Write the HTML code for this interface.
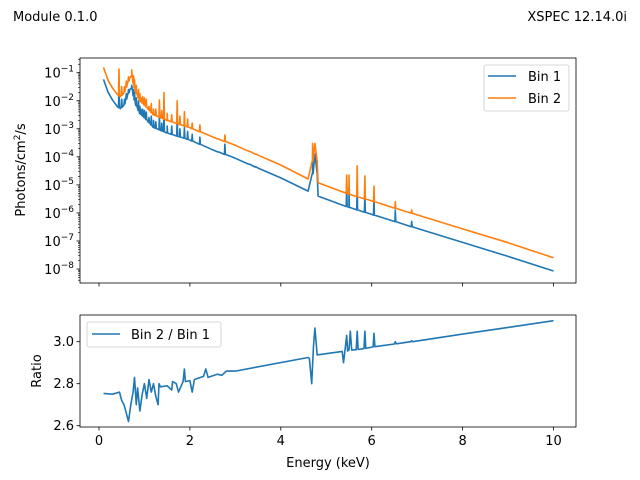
<!DOCTYPE html>
<html><head><meta charset="utf-8"><style>
body{margin:0;background:#fff}
svg{display:block;font-family:"DejaVu Sans","Liberation Sans",sans-serif}
</style></head><body>
<svg id="fig" width="640" height="480" viewBox="0 0 640 480">
<text x="13" y="21" font-size="13">Module 0.1.0</text>
<text x="627" y="21" font-size="13" text-anchor="end">XSPEC 12.14.0i</text>
<g id="topPanel"></g>
<g id="botPanel"></g>
</svg>
<script>
// Continuum anchors (energy keV, log10 photons)
const contE = [0.1,0.2,0.3,0.4,0.47,0.55,0.62,0.68,0.72,0.8,0.9,1.0,1.2,1.5,2.0,2.5,3.0,3.5,4.0,4.6,4.7,4.75,4.8,4.82,5.5,6.0,7.0,8.0,9.0,10.0];
const bin1Log = [-1.24,-1.7,-1.98,-2.2,-2.28,-2.15,-1.85,-1.6,-1.55,-2.1,-2.45,-2.6,-2.95,-3.15,-3.4,-3.75,-4.05,-4.4,-4.75,-5.22,-4.6,-3.9,-4.6,-5.4,-5.8,-6.05,-6.55,-7.05,-7.55,-8.07];
const bin2Log = [-0.81,-1.27,-1.55,-1.77,-1.85,-1.72,-1.42,-1.17,-1.12,-1.66,-2.0,-2.15,-2.5,-2.7,-2.96,-3.29,-3.59,-3.94,-4.29,-4.79,-4.15,-3.52,-4.15,-4.92,-5.33,-5.57,-6.07,-6.57,-7.06,-7.6];
// Emission lines (energy, peak log10)
const lineE = [0.44,0.5,0.56,0.6,0.65,0.72,0.76,0.78,0.82,0.87,0.9,0.92,0.96,1.0,1.04,1.1,1.15,1.2,1.25,1.33,1.38,1.43,1.5,1.6,1.72,1.78,1.88,1.95,2.05,2.22,2.62,2.77,3.3,3.45,4.7,5.45,5.5,5.68,5.85,6.05,6.52,6.88];
const line1Log = [-1.3,-1.95,-1.95,-1.75,-1.6,-1.45,-1.6,-1.7,-1.9,-2.0,-2.2,-2.3,-2.3,-2.35,-2.4,-2.6,-2.55,-2.7,-2.75,-2.55,-2.8,-2.35,-2.9,-2.9,-2.6,-3.0,-2.95,-3.1,-3.2,-3.3,-3.9,-3.55,-4.3,-4.35,-3.9,-5.1,-5.1,-5.1,-5.35,-5.45,-5.9,-6.3];
const line2Log = [-0.87,-1.5,-1.5,-1.3,-1.15,-0.9,-1.1,-1.25,-1.45,-1.6,-1.75,-1.9,-1.85,-1.9,-1.95,-2.2,-2.1,-2.3,-2.3,-1.97,-2.35,-1.71,-2.45,-2.5,-2.0,-2.55,-2.39,-2.65,-2.8,-2.86,-3.45,-3.22,-3.9,-4.0,-3.52,-4.65,-4.65,-4.32,-4.68,-5.04,-5.6,-5.9];
// Ratio (energy, value)
const ratioE = [0.1,0.3,0.45,0.5,0.55,0.6,0.65,0.7,0.75,0.78,0.82,0.85,0.9,0.95,1.0,1.05,1.1,1.15,1.2,1.25,1.3,1.32,1.35,1.5,1.6,1.62,1.7,1.75,1.85,1.88,1.9,2.0,2.05,2.1,2.3,2.35,2.4,2.6,2.7,2.8,3.0,4.6,4.63,4.68,4.72,4.75,4.8,5.35,5.38,5.41,5.45,5.47,5.5,5.53,5.56,5.66,5.68,5.7,5.83,5.85,5.87,6.03,6.05,6.07,6.5,6.52,6.54,6.86,6.88,6.9,8,9,10];
const ratioVal = [2.754,2.75,2.76,2.72,2.70,2.66,2.62,2.70,2.76,2.83,2.70,2.78,2.67,2.75,2.80,2.73,2.82,2.76,2.80,2.74,2.70,2.80,2.785,2.79,2.77,2.81,2.80,2.76,2.81,2.87,2.81,2.815,2.76,2.82,2.835,2.87,2.83,2.845,2.84,2.86,2.86,2.925,2.92,2.80,2.98,3.065,2.937,2.954,2.90,2.955,3.03,2.956,2.96,3.05,2.96,2.962,3.05,2.963,2.967,3.05,2.968,2.975,3.04,2.976,2.989,3.0,2.99,3.0,3.005,3.0,3.036,3.068,3.1];
const xTicks = [0,2,4,6,8,10];
const yLogTicks = [-1,-2,-3,-4,-5,-6,-7,-8];
const ratioTicks = [2.6,2.8,3.0];

const NS = "http://www.w3.org/2000/svg";
const L = 80, R = 576;
const T1 = 58, B1 = 283, T2 = 315, B2 = 427;
function xs(e){ return 99 + e*45.45; }
function ys1(lg){ return 72.7 - (lg+1)*28.05; }
function ys2(v){ return 341.7 - (v-3.0)*210; }
function mk(tag, attrs, parent){
  const el = document.createElementNS(NS, tag);
  for (const k in attrs) el.setAttribute(k, attrs[k]);
  parent.appendChild(el); return el;
}
function interp(xa, ya, x){
  if (x <= xa[0]) return ya[0];
  for (let i=1;i<xa.length;i++) if (x <= xa[i]) { const t=(x-xa[i-1])/(xa[i]-xa[i-1]); return ya[i-1]+t*(ya[i]-ya[i-1]); }
  return ya[ya.length-1];
}
function seriesPts(cl, ll){
  let pts = contE.map((e,i)=>[e, cl[i]]);
  lineE.forEach((e,i)=>{
    const c = interp(contE, cl, e);
    pts.push([e-0.01, c]); pts.push([e, Math.max(ll[i], c)]); pts.push([e+0.01, c]);
  });
  pts.sort((a,b)=>a[0]-b[0]);
  return pts;
}
const topG = document.getElementById('topPanel');
const botG = document.getElementById('botPanel');
const defs = mk('defs', {}, document.getElementById('fig'));
const c1 = mk('clipPath', {id:'c1'}, defs); mk('rect', {x:L,y:T1,width:R-L,height:B1-T1}, c1);

[[bin1Log, line1Log, '#1f77b4', 'bin1-line'], [bin2Log, line2Log, '#ff7f0e', 'bin2-line']].forEach(s=>{
  const pts = seriesPts(s[0], s[1]);
  const p = mk('path', {d: pts.map((p,i)=>(i?'L':'M')+xs(p[0]).toFixed(1)+','+ys1(p[1]).toFixed(1)).join(''), fill:'none', stroke:s[2], 'stroke-width':1.6, 'stroke-linejoin':'round', 'clip-path':'url(#c1)'}, topG);
  
  
});
const f1 = mk('rect', {x:L, y:T1, width:R-L, height:B1-T1, fill:'none', stroke:'#000', 'stroke-width':0.8}, topG);


xTicks.forEach(t=>{ mk('line', {x1:xs(t), x2:xs(t), y1:B1, y2:B1+3.5, stroke:'#000', 'stroke-width':0.8}, topG); });
yLogTicks.forEach(t=>{
  const y = ys1(t);
  mk('line', {x1:L-3.5, x2:L, y1:y, y2:y, stroke:'#000', 'stroke-width':0.8}, topG);
  const tx = mk('text', {x:L-6, y:y+5, 'font-size':13, 'text-anchor':'end'}, topG);
  
  
  tx.innerHTML = '10<tspan dy="-6" font-size="9">\u2212' + (-t) + '</tspan>';
  for (let m=2;m<10;m++){
    const ym = ys1(t-1+Math.log10(m));
    if (ym >= T1 && ym <= B1) mk('line', {x1:L-2, x2:L, y1:ym, y2:ym, stroke:'#000', 'stroke-width':0.6}, topG);
  }
});
for (let m=2;m<10;m++){ const ym = ys1(-1+Math.log10(m)); if (ym>=T1) mk('line',{x1:L-2,x2:L,y1:ym,y2:ym,stroke:'#000','stroke-width':0.6},topG); }
const yl = mk('text', {x:0, y:0, 'font-size':13, 'text-anchor':'middle', transform:'translate(25,170) rotate(-90)'}, topG);


yl.innerHTML = 'Photons/cm<tspan dy="-5" font-size="9">2</tspan><tspan dy="5">/s</tspan>';
const lg = mk('g', {}, topG);


mk('rect', {x:484, y:65, width:85, height:46, rx:2, fill:'#fff', stroke:'#ccc', 'stroke-width':0.8}, lg);
[['Bin 1','#1f77b4',76],['Bin 2','#ff7f0e',98]].forEach(e=>{
  mk('line', {x1:488, x2:516, y1:e[2], y2:e[2], stroke:e[1], 'stroke-width':1.5}, lg);
  const t = mk('text', {x:528, y:e[2]+5, 'font-size':13}, lg);
  
  
  t.textContent = e[0];
});

const c2 = mk('clipPath', {id:'c2'}, defs); mk('rect', {x:L,y:T2,width:R-L,height:B2-T2}, c2);
const rp = mk('path', {d: ratioE.map((e,i)=>(i?'L':'M')+xs(e).toFixed(1)+','+ys2(ratioVal[i]).toFixed(1)).join(''), fill:'none', stroke:'#1f77b4', 'stroke-width':1.6, 'stroke-linejoin':'round', 'clip-path':'url(#c2)'}, botG);


const f2 = mk('rect', {x:L, y:T2, width:R-L, height:B2-T2, fill:'none', stroke:'#000', 'stroke-width':0.8}, botG);


xTicks.forEach(t=>{
  mk('line', {x1:xs(t), x2:xs(t), y1:B2, y2:B2+3.5, stroke:'#000', 'stroke-width':0.8}, botG);
  const tx = mk('text', {x:xs(t), y:B2+18, 'font-size':13, 'text-anchor':'middle'}, botG);
  
  
  tx.textContent = t;
});
ratioTicks.forEach(t=>{
  const y = ys2(t);
  mk('line', {x1:L-3.5, x2:L, y1:y, y2:y, stroke:'#000', 'stroke-width':0.8}, botG);
  const tx = mk('text', {x:L-6, y:y+4.5, 'font-size':13, 'text-anchor':'end'}, botG);
  
  
  tx.textContent = t.toFixed(1);
});
const rl = mk('text', {x:0, y:0, 'font-size':13, 'text-anchor':'middle', transform:'translate(41,371) rotate(-90)'}, botG);


rl.textContent = 'Ratio';
const xl = mk('text', {x:328, y:467, 'font-size':13, 'text-anchor':'middle'}, botG);


xl.textContent = 'Energy (keV)';
const lg2 = mk('g', {}, botG);


mk('rect', {x:87, y:322, width:134, height:25, rx:2, fill:'#fff', stroke:'#ccc', 'stroke-width':0.8}, lg2);
mk('line', {x1:92, x2:120, y1:334, y2:334, stroke:'#1f77b4', 'stroke-width':1.5}, lg2);
const lt = mk('text', {x:131, y:339, 'font-size':13}, lg2);


lt.textContent = 'Bin 2 / Bin 1';
</script>
</body></html>
